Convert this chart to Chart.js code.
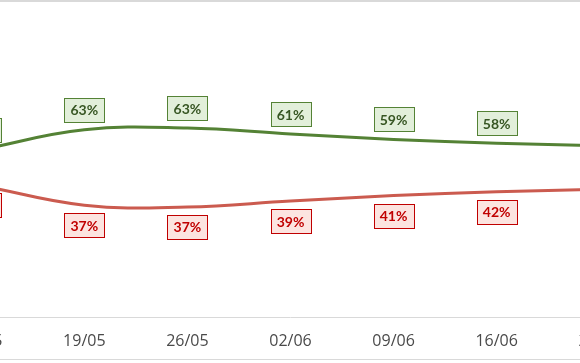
<!DOCTYPE html>
<html>
<head>
<meta charset="utf-8">
<script src="https://cdn.jsdelivr.net/npm/chart.js@4"></script>
<style>
  html, body { margin: 0; padding: 0; background: #fff; }
  #wrap { position: relative; width: 580px; height: 363px; overflow: hidden; }
  #frame { position: absolute; left: 0; top: 0; width: 580px; height: 360px;
           border-top: 2px solid #d9d9d9; border-bottom: 1px solid #d9d9d9; box-sizing: border-box; }
  #chartBox { position: absolute; left: -55px; top: 0; width: 691px; height: 363px; }
</style>
</head>
<body>
<div id="wrap">
  <div id="frame"></div>
  <div id="chartBox"><canvas id="trendChart"></canvas></div>
</div>
<script>
// Weeks shown on the x axis (first and last are cut off at the edges)
const weeks = ['12/05', '19/05', '26/05', '02/06', '09/06', '16/06', '23/06'];

// Share per week, in percent
const greenShare = [56, 62.6, 63.2, 61.2, 59.4, 58.1, 57.3];
const redShare = [44, 37.4, 36.8, 38.8, 40.6, 41.9, 42.7];

// Draw the boxed percentage labels above / below each point
const boxLabels = {
    id: 'boxLabels',
    afterDatasetsDraw(chart) {
        const ctx = chart.ctx;
        ctx.save();
        ctx.font = 'bold 14px Lato, "Open Sans", sans-serif';
        ctx.textAlign = 'center';
        ctx.textBaseline = 'middle';
        chart.data.datasets.forEach((ds, i) => {
            const meta = chart.getDatasetMeta(i);
            meta.data.forEach((pt, j) => {
                const text = Math.round(ds.data[j]) + '%';
                const w = Math.round(ctx.measureText(text).width + 12);
                const h = 24;
                const cy = pt.y + ds.labelShift;
                const left = Math.round(pt.x - w / 2);
                const top = Math.round(cy - h / 2);
                ctx.fillStyle = ds.labelFill;
                ctx.fillRect(left, top, w, h);
                ctx.strokeStyle = ds.labelBorder;
                ctx.lineWidth = 1;
                ctx.strokeRect(left + 0.5, top + 0.5, w, h);
                ctx.fillStyle = ds.labelText;
                ctx.fillText(text, pt.x, cy + 1);
            });
        });
        ctx.restore();
    }
};

const ctx = document.getElementById('trendChart').getContext('2d');
new Chart(ctx, {
    type: 'line',
    data: {
        labels: weeks,
        datasets: [{
            data: greenShare,
            borderColor: '#548235',
            borderWidth: 3,
            pointRadius: 0,
            tension: 0.4,
            fill: false,
            labelShift: -20,
            labelFill: '#E2EFDA',
            labelBorder: '#548235',
            labelText: '#375623'
        }, {
            data: redShare,
            borderColor: '#CB5B4F',
            borderWidth: 3,
            pointRadius: 0,
            tension: 0.4,
            fill: false,
            labelShift: 20,
            labelFill: '#FCE4E0',
            labelBorder: '#C00000',
            labelText: '#C00000'
        }]
    },
    options: {
        responsive: true,
        maintainAspectRatio: false,
        animation: false,
        layout: { padding: { left: 30, right: 30, top: 18, bottom: 2 } },
        plugins: {
            legend: { display: false },
            tooltip: { enabled: false }
        },
        scales: {
            x: {
                offset: false,
                grid: { display: false, drawTicks: false },
                border: { display: true, color: '#d9d9d9', width: 1 },
                ticks: {
                    color: '#4a4a4a',
                    padding: 15,
                    maxRotation: 0,
                    autoSkip: false,
                    font: { family: '"Open Sans", Lato, sans-serif', size: 16 }
                },
                afterFit(scale) { scale.height = 44; }
            },
            y: {
                display: false,
                min: 0,
                max: 100
            }
        }
    },
    plugins: [boxLabels]
});
</script>
</body>
</html>
